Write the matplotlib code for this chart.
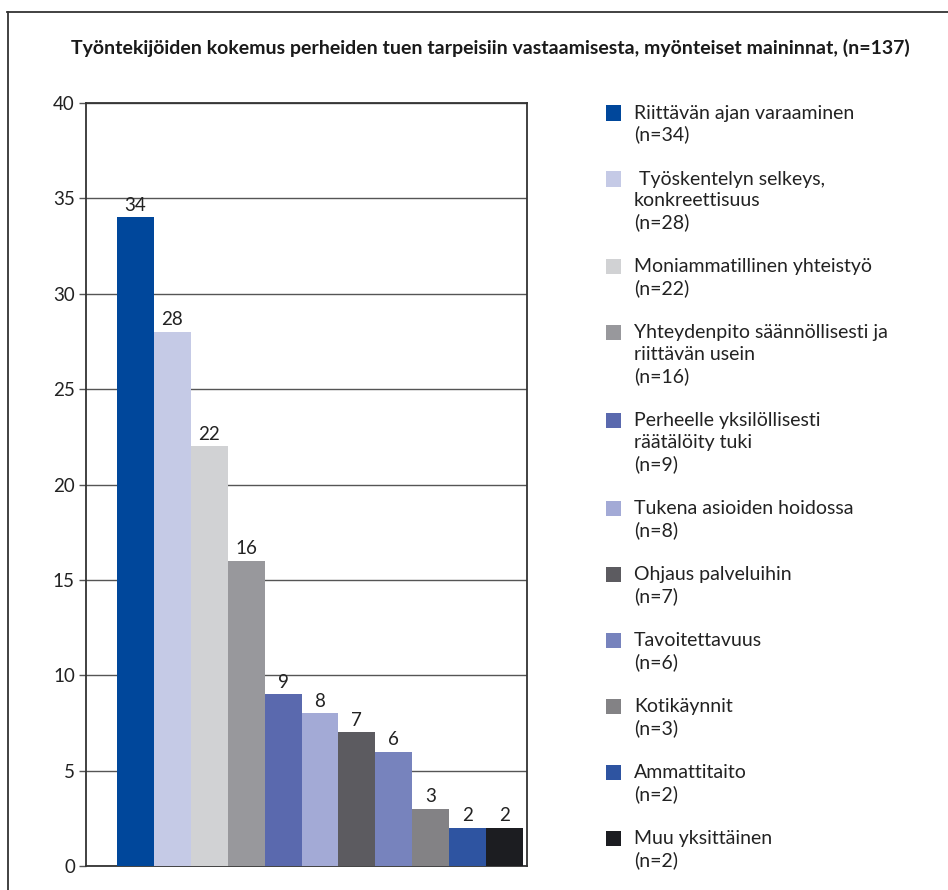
import matplotlib
matplotlib.use("Agg")
import matplotlib.pyplot as plt
from matplotlib.patches import Rectangle
from matplotlib.lines import Line2D

plt.rcParams['font.family'] = ['Lato', 'DejaVu Sans']

title = "Työntekijöiden kokemus perheiden tuen tarpeisiin vastaamisesta, myönteiset maininnat, (n=137)"
categories = [
    "Riittävän ajan varaaminen",
    " Työskentelyn selkeys,\nkonkreettisuus",
    "Moniammatillinen yhteistyö",
    "Yhteydenpito säännöllisesti ja\nriittävän usein",
    "Perheelle yksilöllisesti\nräätälöity tuki",
    "Tukena asioiden hoidossa",
    "Ohjaus palveluihin",
    "Tavoitettavuus",
    "Kotikäynnit",
    "Ammattitaito",
    "Muu yksittäinen",
]
values = [34, 28, 22, 16, 9, 8, 7, 6, 3, 2, 2]
colors = ["#00479b", "#c5cae6", "#d1d2d4", "#98989c", "#5a69ae", "#a3aad6",
          "#5c5b60", "#7783bd", "#838285", "#2e54a1", "#1c1d21"]
yticks = [0, 5, 10, 15, 20, 25, 30, 35, 40]

W, H = 948, 890
fig = plt.figure(figsize=(W / 100, H / 100), dpi=100)

# outer frame (top and left lines)
fig.add_artist(Line2D([7 / W, 1.0], [1 - 12 / H, 1 - 12 / H], color="#333333", lw=1.3))
fig.add_artist(Line2D([8 / W, 8 / W], [0, 1 - 12 / H], color="#333333", lw=1.3))

fig.text(490 / W, 1 - 48 / H, title, ha="center", va="center", fontsize=14,
         fontweight="bold", color="#1a1a1a")

ax = fig.add_axes([86 / W, 1 - 866 / H, (527 - 86) / W, (866 - 103) / H])
x = list(range(len(values)))
ax.bar(x, values, width=1.0, color=colors, zorder=3)
ax.set_xlim(-1.34, 10.61)
ax.set_ylim(0, 40)
ax.set_yticks(yticks)
ax.set_yticklabels([str(t) for t in yticks], fontsize=13.5, color="#222222")
ax.set_xticks([])
ax.yaxis.grid(True, color="#555555", lw=1.0, zorder=0)
ax.tick_params(axis="y", length=5, width=1, color="#555555", pad=3)
for s in ax.spines.values():
    s.set_color("#333333")
    s.set_linewidth(1.3)
for xi, v in zip(x, values):
    ax.annotate(str(v), (xi, v), xytext=(0, 2.5), textcoords="offset points",
                ha="center", va="bottom", fontsize=13.5, color="#222222", zorder=4)

# legend
line_h = 21.7
gap = 22.6
y = 113
for lab, n, c in zip(categories, values, colors):
    lines = f"{lab}\n(n={n})".split("\n")
    fig.add_artist(Rectangle((606 / W, 1 - (y + 7.5) / H), 15 / W, 15 / H,
                             transform=fig.transFigure, facecolor=c, edgecolor="none"))
    for i, ln in enumerate(lines):
        fig.text(634 / W, 1 - (y + i * line_h) / H, ln, ha="left", va="center",
                 fontsize=14, color="#222222")
    y += len(lines) * line_h + gap

fig.savefig("out.png", dpi=100)
